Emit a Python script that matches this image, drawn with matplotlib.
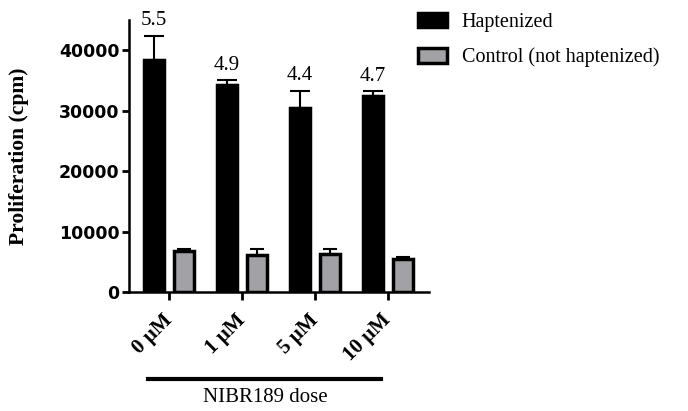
import numpy as np
import matplotlib.pyplot as plt

plt.rcParams['font.family'] = ['Liberation Serif', 'DejaVu Serif']

doses = ['0 µM', '1 µM', '5 µM', '10 µM']
hapt = [38400, 34200, 30500, 32500]
hapt_err = [4000, 850, 2850, 700]
ctrl = [6850, 6100, 6300, 5400]
ctrl_err = [350, 1050, 800, 450]
fold = ['5.5', '4.9', '4.4', '4.7']

fig = plt.figure(figsize=(6.88, 4.11), dpi=100)
ax = fig.add_axes([0.1875, 0.2895, 0.436, 0.6615])

x = np.arange(len(doses))
w = 0.28
off = 0.205
zeros = np.zeros(len(doses))

ax.bar(x - off, hapt, w, color='black', edgecolor='black', linewidth=2.5,
       label='Haptenized', zorder=3)
ax.bar(x + off, ctrl, w, color='#a2a2a6', edgecolor='black', linewidth=2.5,
       label='Control (not haptenized)', zorder=3)
ax.errorbar(x - off, hapt, yerr=[zeros, hapt_err], fmt='none', ecolor='black',
            elinewidth=1.5, capsize=7, capthick=1.5, zorder=2)
ax.errorbar(x + off, ctrl, yerr=[zeros, ctrl_err], fmt='none', ecolor='black',
            elinewidth=1.5, capsize=5, capthick=1.5, zorder=2)

# fold change above the haptenized bars
for xi, h, e, t in zip(x, hapt, hapt_err, fold):
    ax.annotate(t, (xi - off, h + e), xytext=(0, 4), textcoords='offset points',
                ha='center', va='bottom', fontsize=15)

ax.set_xlim(-0.55, 3.56)
ax.set_ylim(0, 45000)
ax.set_yticks([0, 10000, 20000, 30000, 40000])
ax.set_yticklabels(['0', '10000', '20000', '30000', '40000'],
                   family='DejaVu Sans', fontweight='bold', fontsize=12.5)
ax.set_xticks(x)
ax.set_xticklabels(doses, rotation=45, ha='right', va='center',
                   rotation_mode='anchor', fontweight='bold', fontsize=15)
ax.tick_params(axis='x', length=6, width=2, pad=12)
ax.tick_params(axis='y', length=5, width=2, pad=2)
for s in ['top', 'right']:
    ax.spines[s].set_visible(False)
for s in ['left', 'bottom']:
    ax.spines[s].set_linewidth(1.8)

ax.set_ylabel('Proliferation (cpm)', fontweight='bold', fontsize=15.5, labelpad=21)

fig.add_artist(plt.Line2D([148 / 688, 381 / 688], [1 - 379 / 411, 1 - 379 / 411],
                          color='black', linewidth=3))
fig.text(265 / 688, 1 - 397 / 411, 'NIBR189 dose', ha='center', va='center',
         fontsize=15)

ax.legend(loc='upper left', bbox_to_anchor=(0.93, 1.064), frameon=False,
          borderpad=0, fontsize=14.5, handlelength=1.45, handleheight=0.72,
          handletextpad=0.72, labelspacing=0.78)

fig.savefig('out.png', dpi=100)
